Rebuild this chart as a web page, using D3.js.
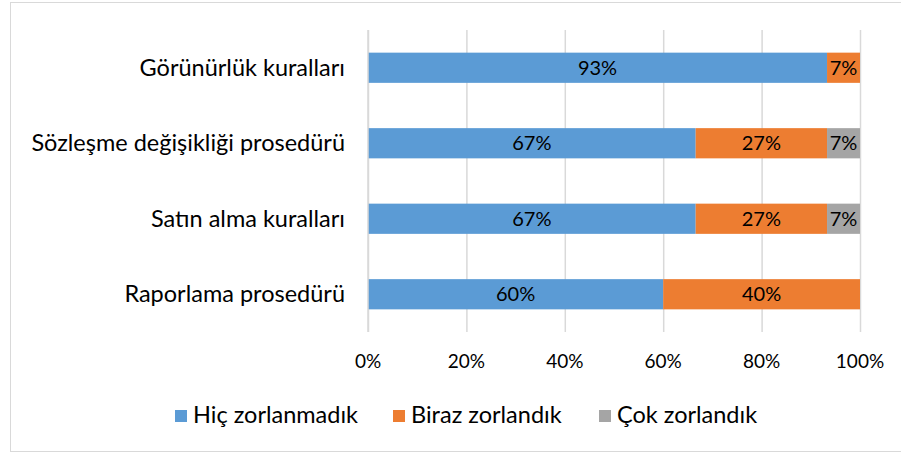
<!DOCTYPE html>
<html lang="tr">
<head>
    <meta charset="utf-8">
    <title>Zorlanma düzeyi</title>
    <script src="https://d3js.org/d3.v7.min.js"></script>
    <style>
        body { margin: 0; background: #fff; }
        text { font-family: Lato, "Open Sans", sans-serif; fill: #000; }
        .grid line { stroke: #d9d9d9; stroke-width: 1.5; }
        .grid .domain { display: none; }
    </style>
</head>
<body>
<script>
    const categories = ["Görünürlük kuralları", "Sözleşme değişikliği prosedürü", "Satın alma kuralları", "Raporlama prosedürü"];
    const seriesNames = ["Hiç zorlanmadık", "Biraz zorlandık", "Çok zorlandık"];
    const hic = [93.3, 66.6, 66.6, 60];
    const biraz = [6.7, 26.7, 26.7, 40];
    const cok = [0, 6.7, 6.7, 0];
    const labels = [["93%", "67%", "67%", "60%"], ["7%", "27%", "27%", "40%"], ["", "7%", "7%", ""]];
    const ticks = [0, 20, 40, 60, 80, 100];
    const colors = ["#5b9bd5", "#ed7d31", "#a5a5a5"];

    const rows = categories.map((c, i) => ({cat: c, s0: hic[i], s1: biraz[i], s2: cok[i]}));
    const stack = d3.stack().keys(["s0", "s1", "s2"])(rows);

    const svg = d3.select("body").append("svg").attr("width", 901).attr("height", 453);

    svg.append("rect").attr("x", 10.5).attr("y", 2.5).attr("width", 895).attr("height", 449)
        .attr("fill", "#fff").attr("stroke", "#d9d9d9");

    const x = d3.scaleLinear().domain([0, 100]).range([368, 860]);
    const y = d3.scaleBand().domain(categories).range([30, 332]).paddingInner(0.6).paddingOuter(0.3);

    // gridlines
    svg.append("g").attr("class", "grid")
        .attr("transform", "translate(0,30)")
        .call(d3.axisBottom(x).tickValues(ticks).tickSize(302).tickFormat(""));

    svg.append("g").selectAll("g")
        .data(stack).enter().append("g")
        .attr("fill", (d, i) => colors[i])
        .selectAll("rect")
        .data(d => d).enter().append("rect")
        .attr("x", d => x(d[0]))
        .attr("width", d => x(d[1]) - x(d[0]))
        .attr("y", d => y(d.data.cat))
        .attr("height", y.bandwidth());

    // data labels
    stack.forEach((s, si) => {
        svg.append("g").selectAll("text")
            .data(s).enter().append("text")
            .attr("x", d => (x(d[0]) + x(d[1])) / 2)
            .attr("y", d => y(d.data.cat) + y.bandwidth() / 2 + 7)
            .attr("text-anchor", "middle")
            .style("font-size", "20px")
            .text((d, i) => labels[si][i]);
    });

    // category labels
    svg.append("g").selectAll("text")
        .data(categories).enter().append("text")
        .attr("x", 345)
        .attr("y", d => y(d) + y.bandwidth() / 2 + 8)
        .attr("text-anchor", "end")
        .style("font-size", "23.5px")
        .text(d => d);

    // y axis line
    svg.append("line").attr("x1", 368).attr("x2", 368).attr("y1", 30).attr("y2", 332)
        .attr("stroke", "#d9d9d9").attr("stroke-width", 1.5);

    // x tick labels
    svg.append("g").selectAll("text")
        .data(ticks).enter().append("text")
        .attr("x", d => x(d))
        .attr("y", 368)
        .attr("text-anchor", "middle")
        .style("font-size", "19px")
        .text(d => d + "%");

    // legend
    const legendX = [175, 393, 599];
    const lg = svg.append("g").selectAll("g")
        .data(seriesNames).enter().append("g")
        .attr("transform", (d, i) => `translate(${legendX[i]},410)`);
    lg.append("rect").attr("width", 12).attr("height", 12).attr("fill", (d, i) => colors[i]);
    lg.append("text").attr("x", 18).attr("y", 13).style("font-size", "23.5px").text(d => d);
</script>
</body>
</html>
